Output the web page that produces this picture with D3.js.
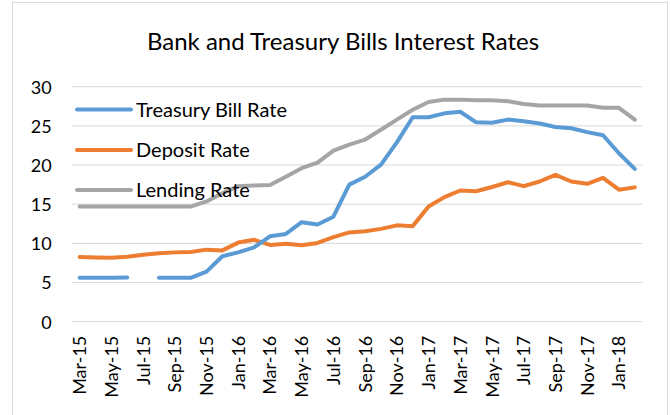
<!DOCTYPE html>
<html lang="en">
<head>
<meta charset="utf-8">
<title>Bank and Treasury Bills Interest Rates</title>
<script src="https://d3js.org/d3.v7.min.js"></script>
<style>
    body {
        margin: 0;
        background: #fff;
        font-family: 'Lato', 'Open Sans', sans-serif;
    }
    #chart svg { display: block; }
    .grid line { stroke: #d9d9d9; stroke-width: 1; }
    .axis text { font-size: 18px; fill: #000; font-family: 'Lato', sans-serif; }
    .legend text { font-size: 20px; fill: #000; }
</style>
</head>
<body>
<div id="chart"></div>
<script>
// month labels, Mar-15 .. Feb-18
const months = ["Mar-15","Apr-15","May-15","Jun-15","Jul-15","Aug-15","Sep-15","Oct-15","Nov-15","Dec-15",
    "Jan-16","Feb-16","Mar-16","Apr-16","May-16","Jun-16","Jul-16","Aug-16","Sep-16","Oct-16","Nov-16","Dec-16",
    "Jan-17","Feb-17","Mar-17","Apr-17","May-17","Jun-17","Jul-17","Aug-17","Sep-17","Oct-17","Nov-17","Dec-17",
    "Jan-18","Feb-18"];

// Jul-15 missing for T-bills
const treasuryBill = [5.6,5.6,5.6,5.65,null,5.6,5.6,5.6,6.4,8.35,
    8.85,9.5,10.9,11.2,12.7,12.4,13.4,17.5,18.5,20.05,22.9,26.1,
    26.1,26.6,26.8,25.45,25.4,25.8,25.6,25.3,24.85,24.7,24.2,23.8,
    21.5,19.5];

const depositRate = [8.25,8.2,8.15,8.3,8.55,8.75,8.85,8.9,9.2,9.1,
    10.1,10.45,9.8,9.95,9.75,10.05,10.8,11.4,11.55,11.85,12.3,12.2,
    14.7,15.9,16.75,16.65,17.2,17.8,17.3,17.9,18.75,17.9,17.6,18.35,
    16.85,17.15];

const lendingRate = [14.7,14.7,14.7,14.7,14.7,14.7,14.7,14.7,15.35,16.4,
    17.3,17.4,17.45,18.5,19.6,20.3,21.85,22.6,23.25,24.5,25.8,27.05,
    28.05,28.35,28.35,28.27,28.27,28.15,27.8,27.6,27.6,27.6,27.6,27.3,
    27.3,25.8];

const yTicks = [0, 5, 10, 15, 20, 25, 30];

const seriesNames = ["Treasury Bill Rate", "Deposit Rate", "Lending Rate"];
const seriesColors = ["#5b9bd5", "#ed7d31", "#a5a5a5"];

const W = 670, H = 415;
const margin = {top: 86.7, right: 27.3, bottom: 93.3, left: 71.7};
const width = W - margin.left - margin.right;
const height = H - margin.top - margin.bottom;

const svg = d3.select("#chart").append("svg")
    .attr("width", W)
    .attr("height", H);

// chart frame
svg.append("rect")
    .attr("x", 12.5).attr("y", 2.5)
    .attr("width", 655).attr("height", 420)
    .attr("fill", "none")
    .attr("stroke", "#d9d9d9");

svg.append("text")
    .attr("x", 343)
    .attr("y", 50)
    .attr("text-anchor", "middle")
    .style("font-size", "24px")
    .text("Bank and Treasury Bills Interest Rates");

const g = svg.append("g")
    .attr("transform", `translate(${margin.left},${margin.top})`);

const x = d3.scaleBand()
    .domain(months)
    .range([0, width]);

const y = d3.scaleLinear()
    .domain([0, 30])
    .range([height, 0]);

// gridlines
g.append("g")
    .attr("class", "grid")
    .selectAll("line")
    .data(yTicks)
    .join("line")
    .attr("x1", 0).attr("x2", width)
    .attr("y1", d => y(d)).attr("y2", d => y(d));

// y axis labels
const yAxis = g.append("g")
    .attr("class", "axis")
    .call(d3.axisLeft(y).tickValues(yTicks).tickSize(0).tickPadding(20));
yAxis.select(".domain").remove();
yAxis.selectAll("text").attr("dy", "0.35em");

// x axis, every second month
const xAxis = g.append("g")
    .attr("class", "axis")
    .attr("transform", `translate(0,${height})`)
    .call(d3.axisBottom(x).tickValues(months.filter((d, i) => i % 2 === 0)).tickSize(0));
xAxis.select(".domain").remove();
xAxis.selectAll("text")
    .attr("transform", "rotate(-90)")
    .attr("text-anchor", "end")
    .attr("x", -14)
    .attr("y", 0)
    .attr("dy", "0.36em");

const line = d3.line()
    .defined(d => d != null)
    .x((d, i) => x(months[i]) + x.bandwidth() / 2)
    .y(d => y(d));

const allSeries = [treasuryBill, depositRate, lendingRate];

// draw back to front so blue sits on top
[2, 1, 0].forEach(k => {
    g.append("path")
        .datum(allSeries[k])
        .attr("fill", "none")
        .attr("stroke", seriesColors[k])
        .attr("stroke-width", 4)
        .attr("stroke-linecap", "round")
        .attr("stroke-linejoin", "round")
        .attr("d", line);
});

// legend inside plot
const legend = svg.append("g").attr("class", "legend");
const legendY = [109.5, 150, 190];
seriesNames.forEach((name, k) => {
    legend.append("line")
        .attr("x1", 77).attr("x2", 131)
        .attr("y1", legendY[k]).attr("y2", legendY[k])
        .attr("stroke", seriesColors[k])
        .attr("stroke-width", 4)
        .attr("stroke-linecap", "round");
    legend.append("text")
        .attr("x", 136)
        .attr("y", legendY[k])
        .attr("dy", "0.35em")
        .text(name);
});
</script>
</body>
</html>
